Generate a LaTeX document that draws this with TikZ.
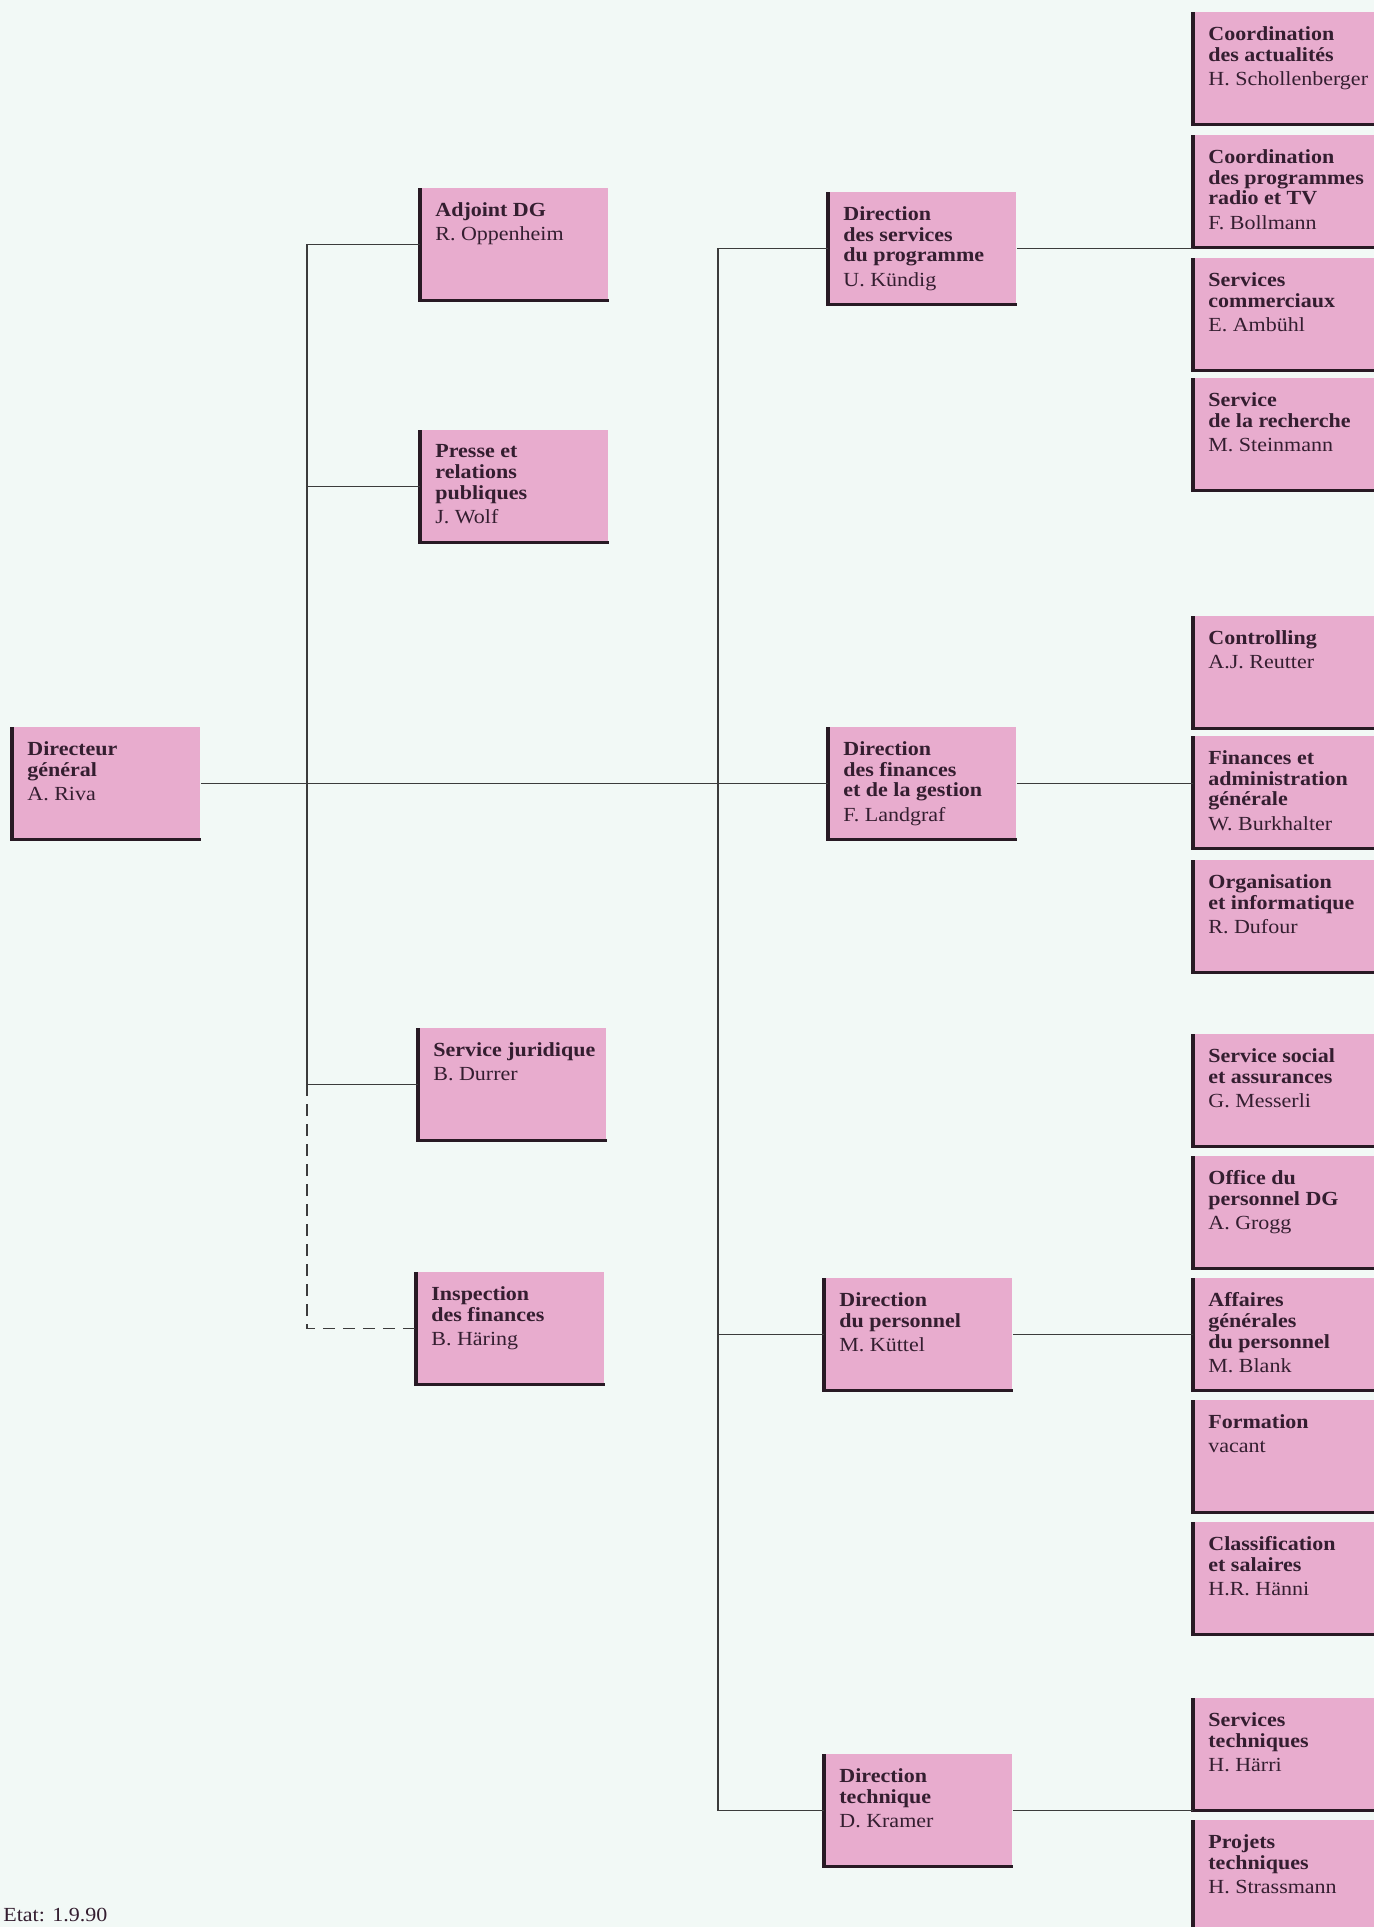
\documentclass[tikz,border=0pt]{standalone}
\usepackage{fontspec}
\setmainfont{Liberation Serif}[FakeStretch=1.1]
\usetikzlibrary{calc}
\definecolor{rose}{RGB}{232,172,206}
\definecolor{edge}{RGB}{40,26,36}
\definecolor{ink}{RGB}{52,30,48}
\definecolor{paper}{RGB}{242,249,246}
\definecolor{wire}{RGB}{60,60,60}
\newcommand{\orgtext}[3][79pt]{\parbox[t][44pt][t]{#1}{\raggedright\hyphenpenalty=10000
  \fontsize{10}{10.4}\selectfont\vspace*{1pt}\bfseries #2\par\vspace{1.8pt}\mdseries #3}}
\tikzset{
  boxedge/.style={draw=edge, line width=1.6pt, to path={|- (\tikztotarget)}},
  box/.style={fill=rose, anchor=north west, inner xsep=7.5pt, inner ysep=5pt,
              minimum width=94pt, minimum height=56pt, text=ink,
              append after command={\pgfextra{\let\boxnode\tikzlastnode}
                (\boxnode.north west) edge[boxedge] (\boxnode.south east)}},
  leaf/.style={box, minimum width=104pt},
  link/.style={draw=wire, line width=0.7pt},
  dashlink/.style={link, dash pattern=on 6pt off 4pt},
}
\begin{document}
\begin{tikzpicture}[x=0.5pt, y=-0.5pt]
  \useasboundingbox (0,0) rectangle (1374,1927);
  \clip (0,0) rectangle (1374,1927);
  \fill[paper] (0,0) rectangle (1374,1927);
  % direction generale
  \node[box] (dg) at (12,727) {\orgtext{Directeur\\général}{A. Riva}};
  % etat-major
  \node[box] (adj) at (420,188) {\orgtext{Adjoint DG}{R. Oppenheim}};
  \node[box] (presse) at (420,430) {\orgtext{Presse et\\relations\\publiques}{J. Wolf}};
  \node[box] (jur) at (418,1028) {\orgtext{\mbox{Service juridique}}{B. Durrer}};
  \node[box] (insp) at (416,1272) {\orgtext{Inspection\\des finances}{B. Häring}};
  % directions
  \node[box] (prog) at (828,192) {\orgtext{Direction\\des services\\du programme}{U. Kündig}};
  \node[box] (fin) at (828,727) {\orgtext{Direction\\des finances\\et de la gestion}{F. Landgraf}};
  \node[box] (pers) at (824,1278) {\orgtext{Direction\\du personnel}{M. Küttel}};
  \node[box] (tech) at (824,1754) {\orgtext{Direction\\technique}{D. Kramer}};
  % services
  \node[leaf] (actu) at (1193,12) {\orgtext[89pt]{Coordination\\des actualités}{H. Schollenberger}};
  \node[leaf] (coord) at (1193,135) {\orgtext[89pt]{Coordination\\des programmes\\radio et TV}{F. Bollmann}};
  \node[leaf] (comm) at (1193,258) {\orgtext[89pt]{Services\\commerciaux}{E. Ambühl}};
  \node[leaf] (rech) at (1193,378) {\orgtext[89pt]{Service\\de la recherche}{M. Steinmann}};
  \node[leaf] (ctrl) at (1193,616) {\orgtext[89pt]{Controlling}{A.J. Reutter}};
  \node[leaf] (fadm) at (1193,736) {\orgtext[89pt]{Finances et\\administration\\générale}{W. Burkhalter}};
  \node[leaf] (orga) at (1193,860) {\orgtext[89pt]{Organisation\\et informatique}{R. Dufour}};
  \node[leaf] (soc) at (1193,1034) {\orgtext[89pt]{Service social\\et assurances}{G. Messerli}};
  \node[leaf] (office) at (1193,1156) {\orgtext[89pt]{Office du\\personnel DG}{A. Grogg}};
  \node[leaf] (aff) at (1193,1278) {\orgtext[89pt]{Affaires\\générales\\du personnel}{M. Blank}};
  \node[leaf] (form) at (1193,1400) {\orgtext[89pt]{Formation}{vacant}};
  \node[leaf] (classif) at (1193,1522) {\orgtext[89pt]{Classification\\et salaires}{H.R. Hänni}};
  \node[leaf] (stech) at (1193,1698) {\orgtext[89pt]{Services\\techniques}{H. Härri}};
  \node[leaf] (ptech) at (1193,1820) {\orgtext[89pt]{Projets\\techniques}{H. Strassmann}};
  \node[anchor=base west, inner sep=0pt, text=ink, font=\fontsize{10}{12}\selectfont] (etat) at (3,1921) {Etat: 1.9.90};
  % liaisons
  \coordinate (busL) at (307,0);
  \coordinate (busM) at (718,0);
  \draw[link] (dg.east) -- (fin.west);
  \draw[link] (adj.west) -- (adj.west -| busL) -- (jur.west -| busL) -- (jur.west);
  \draw[link] (presse.west) -- (presse.west -| busL);
  \draw[dashlink] (jur.west -| busL) -- (insp.west -| busL) -- (insp.west);
  \draw[link] (prog.west) -- (prog.west -| busM) -- (tech.west -| busM) -- (tech.west);
  \draw[link] (pers.west) -- (pers.west -| busM);
  \draw[link] (prog.east) -- (prog.east -| coord.west);
  \draw[link] (fin.east) -- (fin.east -| fadm.west);
  \draw[link] (pers.east) -- (pers.east -| aff.west);
  \draw[link] (tech.east) -- (tech.east -| stech.west);
\end{tikzpicture}
\end{document}
